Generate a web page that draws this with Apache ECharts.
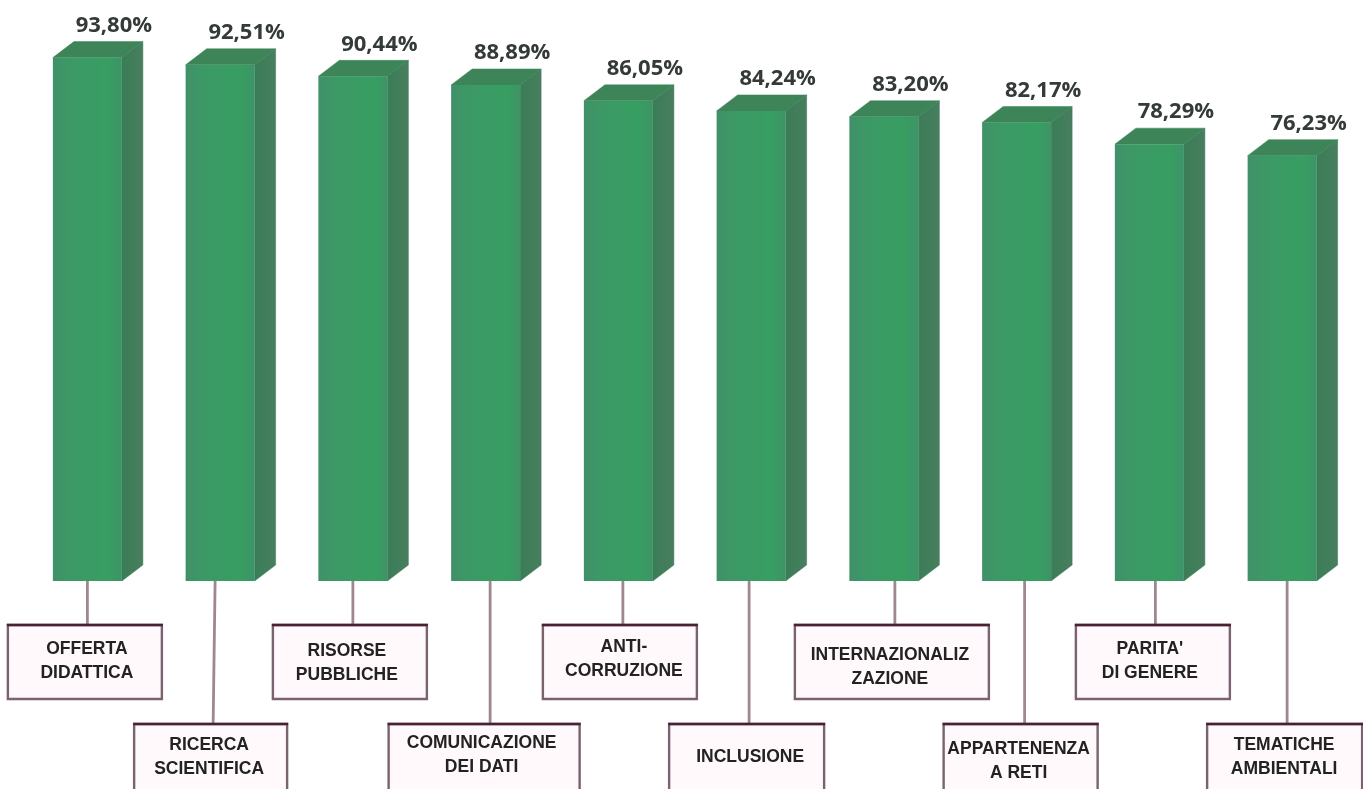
<!DOCTYPE html>
<html>
<head>
<meta charset="utf-8">
<style>html,body{margin:0;padding:0;background:#fff}#c{width:1363px;height:789px}</style>
<script src="https://cdn.jsdelivr.net/npm/echarts@6/dist/echarts.min.js"></script>
</head>
<body>
<div id="c"></div>
<script>
const categories = ["OFFERTA\nDIDATTICA","RICERCA\nSCIENTIFICA","RISORSE\nPUBBLICHE","COMUNICAZIONE\nDEI DATI","ANTI-\nCORRUZIONE","INCLUSIONE","INTERNAZIONALIZ\nZAZIONE","APPARTENENZA\nA RETI","PARITA'\nDI GENERE","TEMATICHE\nAMBIENTALI"];
const values = [93.80,92.51,90.44,88.89,86.05,84.24,83.20,82.17,78.29,76.23];
const valueLabels = ["93,80%","92,51%","90,44%","88,89%","86,05%","84,24%","83,20%","82,17%","78,29%","76,23%"];

// annotation layout, relative to each bar's centre and baseline
const boxLeft  = [-79.5,-86,-80,-97,-75.5,-82,-89,-73,-73.5,-75];
const boxWidth = [154,153,154,191,154,155,194,154,154,155];
const boxRow   = [0,1,0,1,0,1,0,1,0,1];
const textDx   = [-0.5,-11,-6,-4,5.5,-1,6,2,0.5,2];
const textDy   = [80,176,82,174,78.5,176,86,180,80.5,176];
const lineTop  = [0,-5,0,4.5,4.5,-2,11,8,6,5];
const lineBot  = [0,-7,0,4.5,4.5,-2,11,8,6,5];
const rowTop = [44,143], rowHeight = [74,76];
const barWidth = 69, depthX = 21, depthY = 16;

function renderItem(params, api) {
  const i = api.value(0);
  const top = api.coord([i, api.value(1)]);
  const base = api.coord([i, 0]);
  const cx = top[0], l = cx - barWidth / 2, r = cx + barWidth / 2, t = top[1], b = base[1];
  const poly = (points, fill) => ({type:'polygon', shape:{points}, style:{fill, stroke:fill.colorStops?fill.colorStops[0].color:fill, lineWidth:0.5}});
  const bt = b + rowTop[boxRow[i]], bh = rowHeight[boxRow[i]];
  const bl = cx + boxLeft[i], bw = boxWidth[i];
  return {type:'group', children:[
    {type:'line', shape:{x1:cx+lineTop[i], y1:b, x2:cx+lineBot[i], y2:bt},
      style:{stroke:'#a0878f', lineWidth:2.8}},
    poly([[r,t],[r+depthX,t-depthY],[r+depthX,b-depthY],[r,b]],
      {type:'linear',x:0,y:0,x2:1,y2:0,colorStops:[{offset:0,color:'#3a7d56'},{offset:1,color:'#487e5f'}]}),
    poly([[l,t],[l+depthX,t-depthY],[r+depthX,t-depthY],[r,t]], '#3d8558'),
    {type:'rect', shape:{x:l,y:t,width:barWidth,height:b-t},
      style:{fill:{type:'linear',x:0,y:0,x2:1,y2:0,colorStops:[
        {offset:0,color:'#419068'},{offset:0.25,color:'#3c9966'},{offset:0.8,color:'#379e61'},{offset:1,color:'#3e9367'}]}}},
    {type:'rect', shape:{x:bl,y:bt,width:bw,height:bh},
      style:{fill:'#fff9fc', stroke:'#7b6270', lineWidth:2.4}},
    {type:'line', shape:{x1:bl-1,y1:bt,x2:bl+bw+1,y2:bt}, style:{stroke:'#4a2034', lineWidth:2.6}},
    {type:'text', x:cx+textDx[i], y:b+textDy[i], style:{
      text:categories[i], fill:'#222222', font:'bold 17.5px "Liberation Sans", Arial, sans-serif',
      lineHeight:24, align:'center', verticalAlign:'middle'}},
    {type:'text', x:cx+26.5, y:t-32, style:{
      text:valueLabels[i], fill:'#333a38', font:'bold 22px "Open Sans", sans-serif',
      align:'center', verticalAlign:'middle'}}
  ]};
}

const chart = echarts.init(document.getElementById('c'), null, {renderer:'canvas'});
chart.setOption({
  animation:false,
  backgroundColor:'#ffffff',
  grid:{left:21, top:23, width:1327.5, height:558, containLabel:false},
  xAxis:{type:'category', data:categories, show:false},
  yAxis:{type:'value', min:0, max:100, show:false},
  series:[{type:'custom', renderItem, clip:false,
    encode:{x:0,y:1},
    data:values.map((v,i)=>[i,v])}]
});
</script>
</body>
</html>
